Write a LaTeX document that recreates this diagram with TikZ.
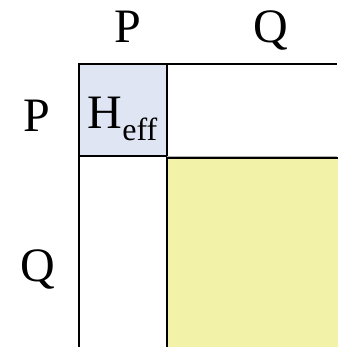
\documentclass[tikz,border=0pt]{standalone}
\usepackage{fontspec}
\setmainfont{Liberation Serif}
\newfontfamily\tms{Liberation Serif}
\definecolor{heffblue}{HTML}{DFE5F2}
\definecolor{qyellow}{HTML}{F3F2A9}
\begin{document}
\begin{tikzpicture}[x=1pt,y=-1pt,
  lbl/.style={font=\tms\fontsize{48}{48}\selectfont, inner sep=0pt, anchor=base},
  blk/.style={inner sep=0pt, outer sep=0pt, anchor=north west}]
\useasboundingbox (0,0) rectangle (337,347);
% blocks
\node[blk, fill=heffblue, draw=black, line width=1.5pt, minimum width=88pt, minimum height=92pt] (pp) at (79,64) {};
\node[blk, minimum width=170pt, minimum height=92pt] (pq) at (167,64) {};
\node[blk, minimum width=88pt, minimum height=191pt] (qp) at (79,156) {};
\node[blk, fill=qyellow, minimum width=171pt, minimum height=189pt] (qq) at (166.5,158) {};
\draw[gray!60, line width=0.8pt] (pq.south west) -- (pq.south east);
\draw[gray!60, line width=0.8pt] (qp.north east) -- (qp.south east) -- (qp.south west);
\draw[line width=2pt] (qq.south west) -- (qq.north west) -- (qq.north east);
\draw[line width=2pt] (qp.south west) -- (pp.north west) -- (pq.north east);
% labels
\node[lbl] (ptop) at (128,42.7) {P};
\node[lbl] (qtop) at (271,42.2) {Q};
\node[lbl] (pleft) at (37,131.5) {P};
\node[lbl] (qleft) at (38,281) {Q};
\node[inner sep=0pt, anchor=base west, font=\tms\fontsize{48}{48}\selectfont] (heff) at (87.5,128.7)
  {H\raisebox{-12pt}{\fontsize{32}{32}\selectfont eff}};
\end{tikzpicture}
\end{document}
